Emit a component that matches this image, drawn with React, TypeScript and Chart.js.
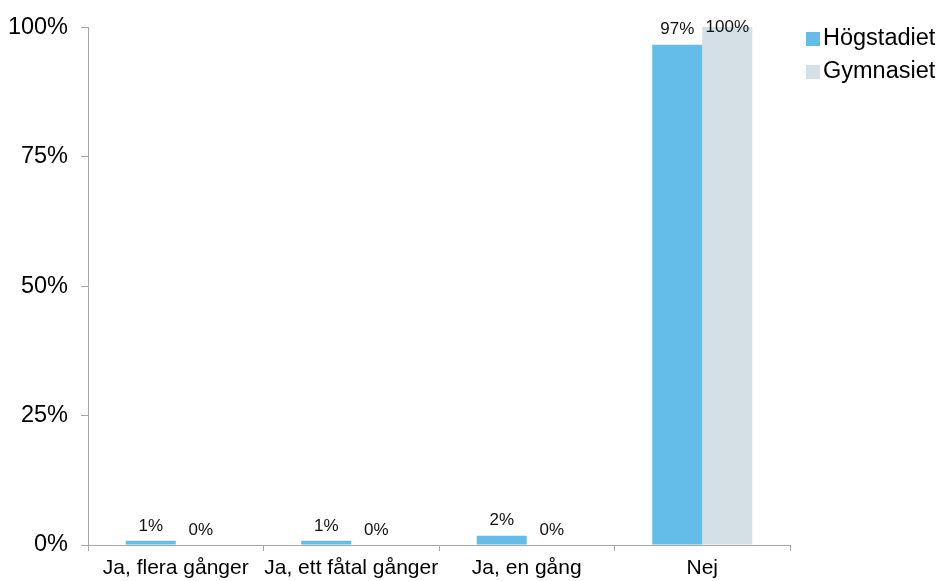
import React, { useEffect, useRef } from "react";
import { Chart, registerables } from "chart.js";

Chart.register(...registerables);

const categories = ["Ja, flera gånger", "Ja, ett fåtal gånger", "Ja, en gång", "Nej"];
const hogstadiet = [0.8, 0.8, 1.8, 96.6];
const gymnasiet = [0, 0, 0, 100];
const yTicks = [0, 25, 50, 75, 100];
const seriesNames = ["Högstadiet", "Gymnasiet"];
const seriesColors = ["#64BDE8", "#D4E0E6"];

const FONT = "'Liberation Sans', Arial, Helvetica, sans-serif";

const dataLabels = {
  id: "dataLabels",
  afterDatasetsDraw(chart: any) {
    const ctx = chart.ctx;
    ctx.save();
    ctx.font = `17px ${FONT}`;
    ctx.fillStyle = "#111";
    ctx.textAlign = "center";
    ctx.textBaseline = "middle";
    chart.data.datasets.forEach((ds: any, i: number) => {
      const meta = chart.getDatasetMeta(i);
      meta.data.forEach((bar: any, j: number) => {
        const v = ds.data[j];
        const y = Math.max(bar.y - 15, chart.chartArea.top);
        ctx.fillText(`${Math.round(v)}%`, bar.x, y);
      });
    });
    ctx.restore();
  },
};

const customLegend = {
  id: "customLegend",
  afterDraw(chart: any) {
    const ctx = chart.ctx;
    ctx.save();
    ctx.font = `23.5px ${FONT}`;
    ctx.textAlign = "left";
    ctx.textBaseline = "middle";
    seriesNames.forEach((name, i) => {
      const y = 39 + i * 33;
      ctx.fillStyle = seriesColors[i];
      ctx.fillRect(806, y - 7, 14, 14);
      ctx.fillStyle = "#000";
      ctx.fillText(name, 823, y);
    });
    ctx.restore();
  },
};

export default function App() {
  const ref = useRef<HTMLCanvasElement>(null);
  useEffect(() => {
    document.body.style.margin = "0";
    const chart = new Chart(ref.current!, {
      type: "bar",
      data: {
        labels: categories,
        datasets: [
          { label: seriesNames[0], data: hogstadiet, backgroundColor: seriesColors[0], categoryPercentage: 0.57, barPercentage: 1 },
          { label: seriesNames[1], data: gymnasiet, backgroundColor: seriesColors[1], categoryPercentage: 0.57, barPercentage: 1 },
        ],
      },
      options: {
        animation: false,
        responsive: false,
        layout: { padding: { top: 23, right: 149, left: 0, bottom: 0 } },
        plugins: { legend: { display: false }, tooltip: { enabled: false } },
        scales: {
          x: {
            offset: true,
            grid: { display: true, offset: true, drawOnChartArea: false, drawTicks: true, tickLength: 6, color: "#A6A6A6" },
            border: { display: true, color: "#A6A6A6", width: 1 },
            ticks: { color: "#000", font: { family: FONT, size: 21 }, padding: 5, maxRotation: 0, autoSkip: false },
            afterFit: (s: any) => { s.height = 36; },
          },
          y: {
            min: 0,
            max: 100,
            afterBuildTicks: (s: any) => { s.ticks = yTicks.map((v) => ({ value: v })); },
            grid: { display: true, drawOnChartArea: false, drawTicks: true, tickLength: 7, color: "#A6A6A6" },
            border: { display: true, color: "#A6A6A6", width: 1 },
            ticks: { color: "#000", font: { family: FONT, size: 23.5 }, padding: 13, callback: (v: any) => `${v}%` },
            afterFit: (s: any) => { s.width = 88; },
          },
        },
      },
      plugins: [dataLabels, customLegend],
    });
    return () => chart.destroy();
  }, []);
  return (
    <div style={{ width: 939, height: 581, background: "#fff" }}>
      <canvas ref={ref} width={939} height={581} />
    </div>
  );
}
